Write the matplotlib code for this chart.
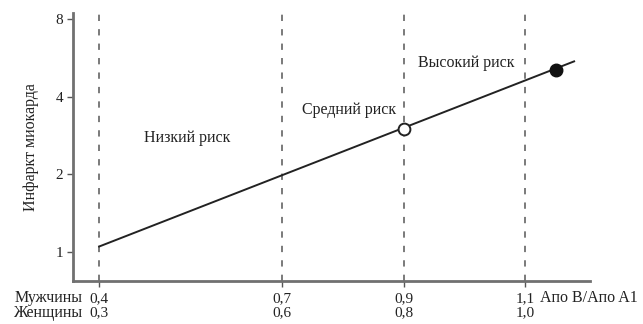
import matplotlib.pyplot as plt

plt.rcParams['font.family'] = ['Liberation Serif', 'DejaVu Serif']

# ApoB/ApoA1 ratio thresholds (men / women)
men_ticks = [0.4, 0.7, 0.9, 1.1]
women_ticks = ["0,3", "0,6", "0,8", "1,0"]
men_labels = ["0,4", "0,7", "0,9", "1,1"]

# relative risk of myocardial infarction
line_x = [0.4, 1.18]
line_y = [1.05, 5.5]
mid_x, mid_y = 0.9, 3.0
high_x, high_y = 1.15, 5.1

y_ticks = [1, 2, 4, 8]

zones = ["Низкий риск", "Средний риск", "Высокий риск"]
zone_x = [0.545, 0.81, 1.003]
zone_y = [2.77, 3.56, 5.42]

fs = 11.5

fig = plt.figure(figsize=(6.43, 3.24), dpi=100)
ax = fig.add_axes([0.1135, 0.133, 0.804, 0.827])

for x in men_ticks:
    ax.axvline(x, color="#707070", lw=1.3, ls=(0, (3.5, 4.5)), zorder=1)

ax.plot(line_x, line_y, color="#222222", lw=1.4, zorder=2)
ax.plot(mid_x, mid_y, "o", ms=8.5, mfc="white", mec="#222222", mew=1.4, zorder=3)
ax.plot(high_x, high_y, "o", ms=9, color="#111111", zorder=3)

ax.set_yscale("log", base=2)
ax.set_ylim(0.772, 8.48)
ax.set_xlim(0.357, 1.206)
ax.set_yticks(y_ticks)
ax.set_yticklabels([str(v) for v in y_ticks])
ax.minorticks_off()
ax.set_xticks(men_ticks)
ax.set_xticklabels([m + "\n" + w for m, w in zip(men_labels, women_ticks)],
                   linespacing=1.15)

for s in ["top", "right"]:
    ax.spines[s].set_visible(False)
for s in ["left", "bottom"]:
    ax.spines[s].set_color("#707070")
    ax.spines[s].set_linewidth(2)
ax.tick_params(axis="both", length=4, width=1, color="#555555",
               labelsize=fs - 0.5, labelcolor="#222222", pad=3)
ax.tick_params(axis="x", pad=4)

ax.set_ylabel("Инфаркт миокарда", fontsize=fs, color="#222222", labelpad=12)

for name, x, y in zip(zones, zone_x, zone_y):
    ax.text(x, y, name, ha="center", va="center", fontsize=fs, color="#222222")

tr = ax.get_xaxis_transform()
ax.text(0.372, -0.035, "Мужчины\nЖенщины", transform=tr, ha="right", va="top",
        fontsize=fs, color="#222222", linespacing=0.92)
ax.text(1.124, -0.035, "Апо B/Апо A1", transform=tr, ha="left", va="top",
        fontsize=fs, color="#222222")

fig.savefig("out.png", dpi=100)
